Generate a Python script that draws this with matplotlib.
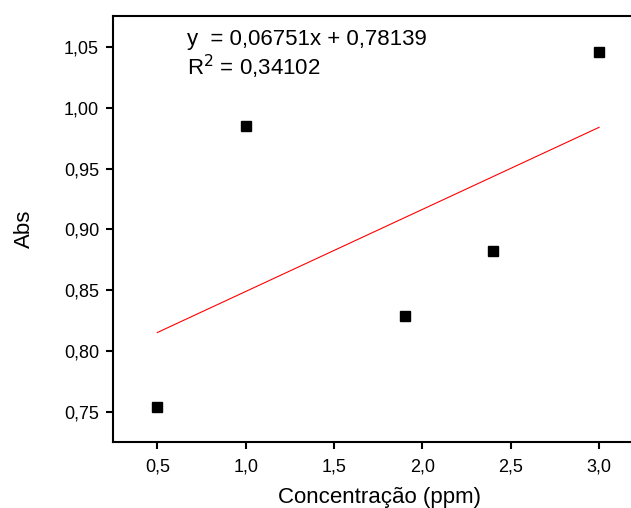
import numpy as np
import matplotlib.pyplot as plt

plt.rcParams['font.family'] = ['Liberation Sans', 'DejaVu Sans']

# data
conc = [0.5, 1.0, 1.9, 2.4, 3.0]
absorb = [0.754, 0.985, 0.829, 0.882, 1.046]
slope = 0.06751
intercept = 0.78139
r2 = 0.34102

fig = plt.figure(figsize=(6.31, 5.08), dpi=100)
ax = fig.add_axes([113 / 631, 1 - 441.5 / 508, (630 - 113) / 631, (441.5 - 16) / 508])

ax.plot(conc, absorb, 's', color='black', markersize=7)
xf = np.array([min(conc), max(conc)])
ax.plot(xf, slope * xf + intercept, color='red', lw=0.8)

ax.set_xlim(0.249, 3.175)
ax.set_ylim(0.7255, 1.0755)
ax.set_xticks([0.5, 1.0, 1.5, 2.0, 2.5, 3.0])
ax.set_yticks([0.75, 0.80, 0.85, 0.90, 0.95, 1.00, 1.05])
ax.set_xticklabels([f"{v:.1f}".replace('.', ',') for v in ax.get_xticks()])
ax.set_yticklabels([f"{v:.2f}".replace('.', ',') for v in ax.get_yticks()])
ax.tick_params(labelsize=13, width=1.5, length=5, direction='out')
ax.tick_params(axis='x', pad=7)
ax.tick_params(axis='y', pad=5)
for s in ax.spines.values():
    s.set_linewidth(1.5)
ax.spines['right'].set_visible(False)

ax.set_xlabel("Concentração (ppm)", fontsize=16)
ax.xaxis.set_label_coords(0.515, -0.108)
ax.set_ylabel("Abs", fontsize=16, labelpad=21)

eq = f"y  = {slope:.5f}x + {intercept:.5f}".replace('.', ',')
ax.text(0.143, 0.932, eq, transform=ax.transAxes, fontsize=16, va='baseline')
ax.text(0.143, 0.861, f"R$^2$ = {r2:.5f}".replace('.', ','), transform=ax.transAxes,
        fontsize=16, va='baseline')

fig.savefig("out.png", dpi=100)
